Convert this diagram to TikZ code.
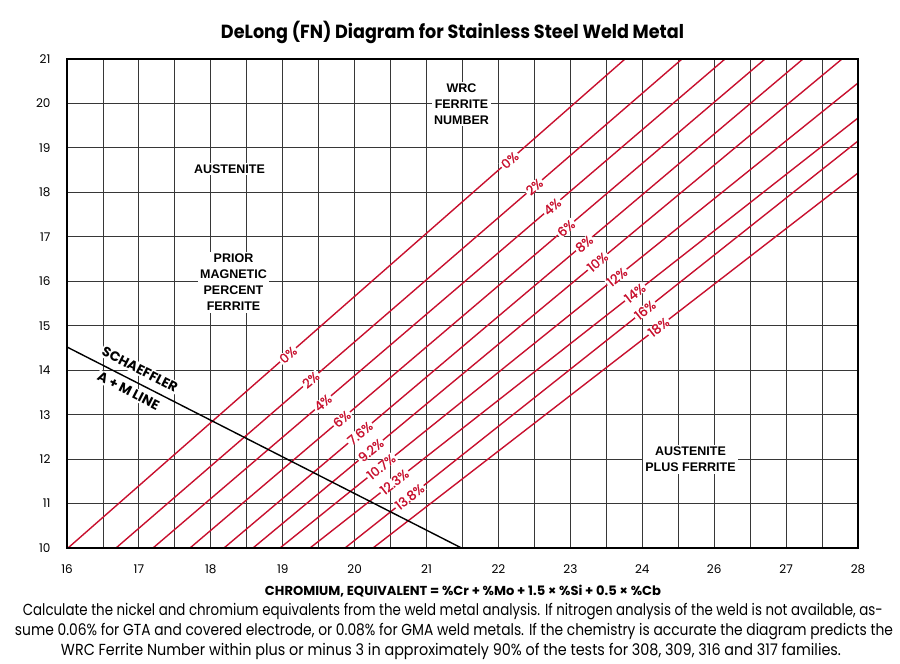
\documentclass[tikz,border=0pt]{standalone}
\usepackage{fontspec}
\setmainfont{Poppins}
\newfontfamily\arialfont{Liberation Sans}
\newfontfamily\redfont{Poppins}[FakeBold=1.3]
\definecolor{fnred}{RGB}{200,16,46}
\definecolor{gridc}{RGB}{55,55,55}
\newcommand{\wfit}[2]{\resizebox{#1}{\height}{#2}}
\tikzset{
  gridline/.style={gridc, line width=0.9pt},
  frameline/.style={black, line width=2.6pt},
  redline/.style={fnred, line width=1.4pt},
  schline/.style={black, line width=1.4pt},
  redlab/.style={fill=white, text=fnred, inner xsep=1.5pt, inner ysep=0pt, sloped, font=\redfont\fontsize{13}{14}\selectfont},
  region/.style={fill=white, align=center, inner sep=2pt, font=\arialfont\bfseries\fontsize{12.5}{16}\selectfont},
  ytick/.style={anchor=east, font=\fontsize{12}{14}\selectfont},
  xtick/.style={font=\fontsize{12}{14}\selectfont},
  schlab/.style={fill=white, inner sep=1.5pt, rotate=-27, font=\bfseries\fontsize{13.5}{14}\selectfont}
}
\begin{document}
\begin{tikzpicture}[x=1pt,y=-1pt]
\useasboundingbox (0,0) rectangle (900,664);
% grid
\foreach \k in {1,...,21} {
  \draw[gridline] ({67+35.955*\k},59) -- ({67+35.955*\k},548);
}
\foreach \j in {1,...,10} {
  \draw[gridline] (67,{59+44.4545*\j}) -- (858,{59+44.4545*\j});
}
% ferrite lines
\foreach \n/\bx/\tx/\ty/\mp/\ml/\wp/\wl in {
  0/68/625/59/0.395/0\%/0.793/0\%,
  2/116/682/59/0.344/2\%/0.739/2\%,
  4/153/725/59/0.297/4\%/0.698/4\%,
  6/190/765/59/0.264/6\%/0.654/6\%,
  8/224/803/59/0.235/7.6\%/0.622/8\%,
  10/253/842/59/0.200/9.2\%/0.585/10\%,
  12/280/858/83/0.175/10.7\%/0.583/12\%,
  14/310/858/118/0.154/12.3\%/0.593/14\%,
  16/345/858/141/0.126/13.8\%/0.585/16\%} {
  \coordinate (b\n) at (\bx,548);
  \coordinate (t\n) at (\tx,\ty);
  \draw[redline] (b\n) -- (t\n)
    node[redlab, pos=\mp] (m\n) {\ml}
    node[redlab, pos=\wp] (w\n) {\wl};
}
\coordinate (b18) at (373,548);
\coordinate (t18) at (858,173);
\draw[redline] (b18) -- (t18) node[redlab, pos=0.589] (w18) {18\%};
% Schaeffler line
\coordinate (sA) at (67,347);
\coordinate (sB) at (461.5,548);
\draw[schline] (sA) -- (sB);
\node[schlab] (sch1) at (140,369.5) {SCHAEFFLER};
\node[schlab] (sch2) at (128.5,391) {A + M LINE};
% frame
\draw[frameline] (67,59) rectangle (858,548);
% region labels
\node[region] (aus) at (229.5,169) {AUSTENITE};
\node[region] (wrc) at (461.5,104) {WRC\\FERRITE\\NUMBER};
\node[region] (pmpf) at (233.5,282.5) {PRIOR\\MAGNETIC\\PERCENT\\FERRITE};
\node[region] (apf) at (690.5,459.5) {AUSTENITE\\PLUS FERRITE};
% y ticks
\foreach \v [count=\i from 0] in {21,20,19,18,17,16,15,14,13,12,11,10} {
  \node[ytick] (y\v) at (54,{59+44.4545*\i}) {\v};
}
% x ticks
\foreach \v [count=\i from 0] in {16,17,18,19,20,21,22,23,24,26,27,28} {
  \node[xtick] (x\i) at ({67+71.91*\i},569) {\v};
}
% titles
\node (title) at (452.5,32) {\wfit{463pt}{\fontsize{19}{22}\selectfont\bfseries DeLong (FN) Diagram for Stainless Steel Weld Metal}};
\node (xtitle) at (463,591) {\wfit{396pt}{\fontsize{13}{16}\selectfont\bfseries CHROMIUM, EQUIVALENT = \%Cr + \%Mo + 1.5 × \%Si + 0.5 × \%Cb}};
\node (cap1) at (452.8,612) {\wfit{860pt}{\fontsize{16}{19}\selectfont Calculate the nickel and chromium equivalents from the weld metal analysis. If nitrogen analysis of the weld is not available, as-}};
\node (cap2) at (454,632) {\wfit{878pt}{\fontsize{16}{19}\selectfont sume 0.06\% for GTA and covered electrode, or 0.08\% for GMA weld metals. If the chemistry is accurate the diagram predicts the}};
\node (cap3) at (451,651) {\wfit{780pt}{\fontsize{16}{19}\selectfont WRC Ferrite Number within plus or minus 3 in approximately 90\% of the tests for 308, 309, 316 and 317 families.}};
\end{tikzpicture}
\end{document}
